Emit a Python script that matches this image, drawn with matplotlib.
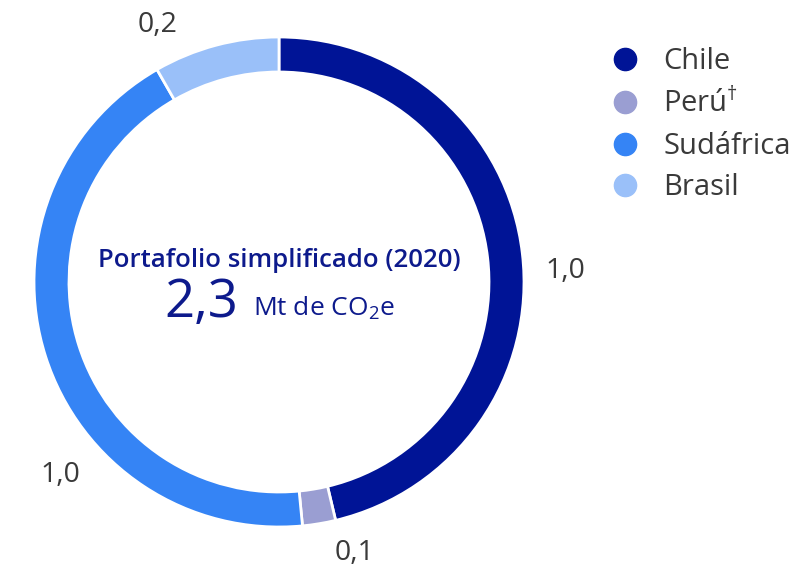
import matplotlib
matplotlib.use('Agg')
import matplotlib.pyplot as plt
from matplotlib.lines import Line2D

plt.rcParams['font.family'] = ['Open Sans', 'DejaVu Sans']
plt.rcParams['mathtext.fontset'] = 'custom'
plt.rcParams['mathtext.rm'] = 'Open Sans'
plt.rcParams['mathtext.it'] = 'Open Sans:italic'
plt.rcParams['mathtext.bf'] = 'Open Sans:bold'

# data (labels are the rounded values shown)
countries = ['Chile', 'Perú$^{\\dagger}$', 'Sudáfrica', 'Brasil']
emissions = [1.06, 0.05, 0.99, 0.19]
value_labels = ['1,0', '0,1', '1,0', '0,2']
colors = ['#001496', '#9a9ed2', '#3584f5', '#9ac0f9']
total_label = '2,3'

fig = plt.figure(figsize=(8.03, 5.66), dpi=100)
ax = fig.add_axes([0, 0, 1, 1])
ax.axis('off')

cx, cy, r = 279, 284, 245
ax.pie(emissions, colors=colors, startangle=90, counterclock=False,
       center=(cx, cy), radius=r,
       wedgeprops=dict(width=35, edgecolor='white', linewidth=2))
ax.set_xlim(0, 803)
ax.set_ylim(0, 566)
ax.set_aspect('equal')

# value labels outside the ring
label_pos = [(565, 295), (355, 13), (60, 91), (158, 541)]
for (x, y), txt in zip(label_pos, value_labels):
    ax.text(x, y, txt, fontsize=20.5, color='#3a3a3a', ha='center', va='center')

# centre text
navy = '#0d1a8c'
ax.text(cx, 305, 'Portafolio simplificado (2020)', fontsize=18.5, fontweight='semibold',
        color=navy, ha='center', va='center')
ax.text(201, 263, total_label, fontsize=38, color=navy, ha='center', va='center')
ax.text(253, 258, 'Mt de CO$_2$e', fontsize=19, color=navy, ha='left', va='center')

# legend
handles = [Line2D([], [], marker='o', linestyle='', markersize=16,
                  markerfacecolor=c, markeredgecolor=c) for c in colors]
leg = ax.legend(handles, countries, loc='upper left', bbox_to_anchor=(0.724, 0.963),
                frameon=False, fontsize=21, handletextpad=0.7, labelspacing=0.43,
                handlelength=1.2)
for t in leg.get_texts():
    t.set_color('#3a3a3a')

fig.savefig('out.png', dpi=100)
